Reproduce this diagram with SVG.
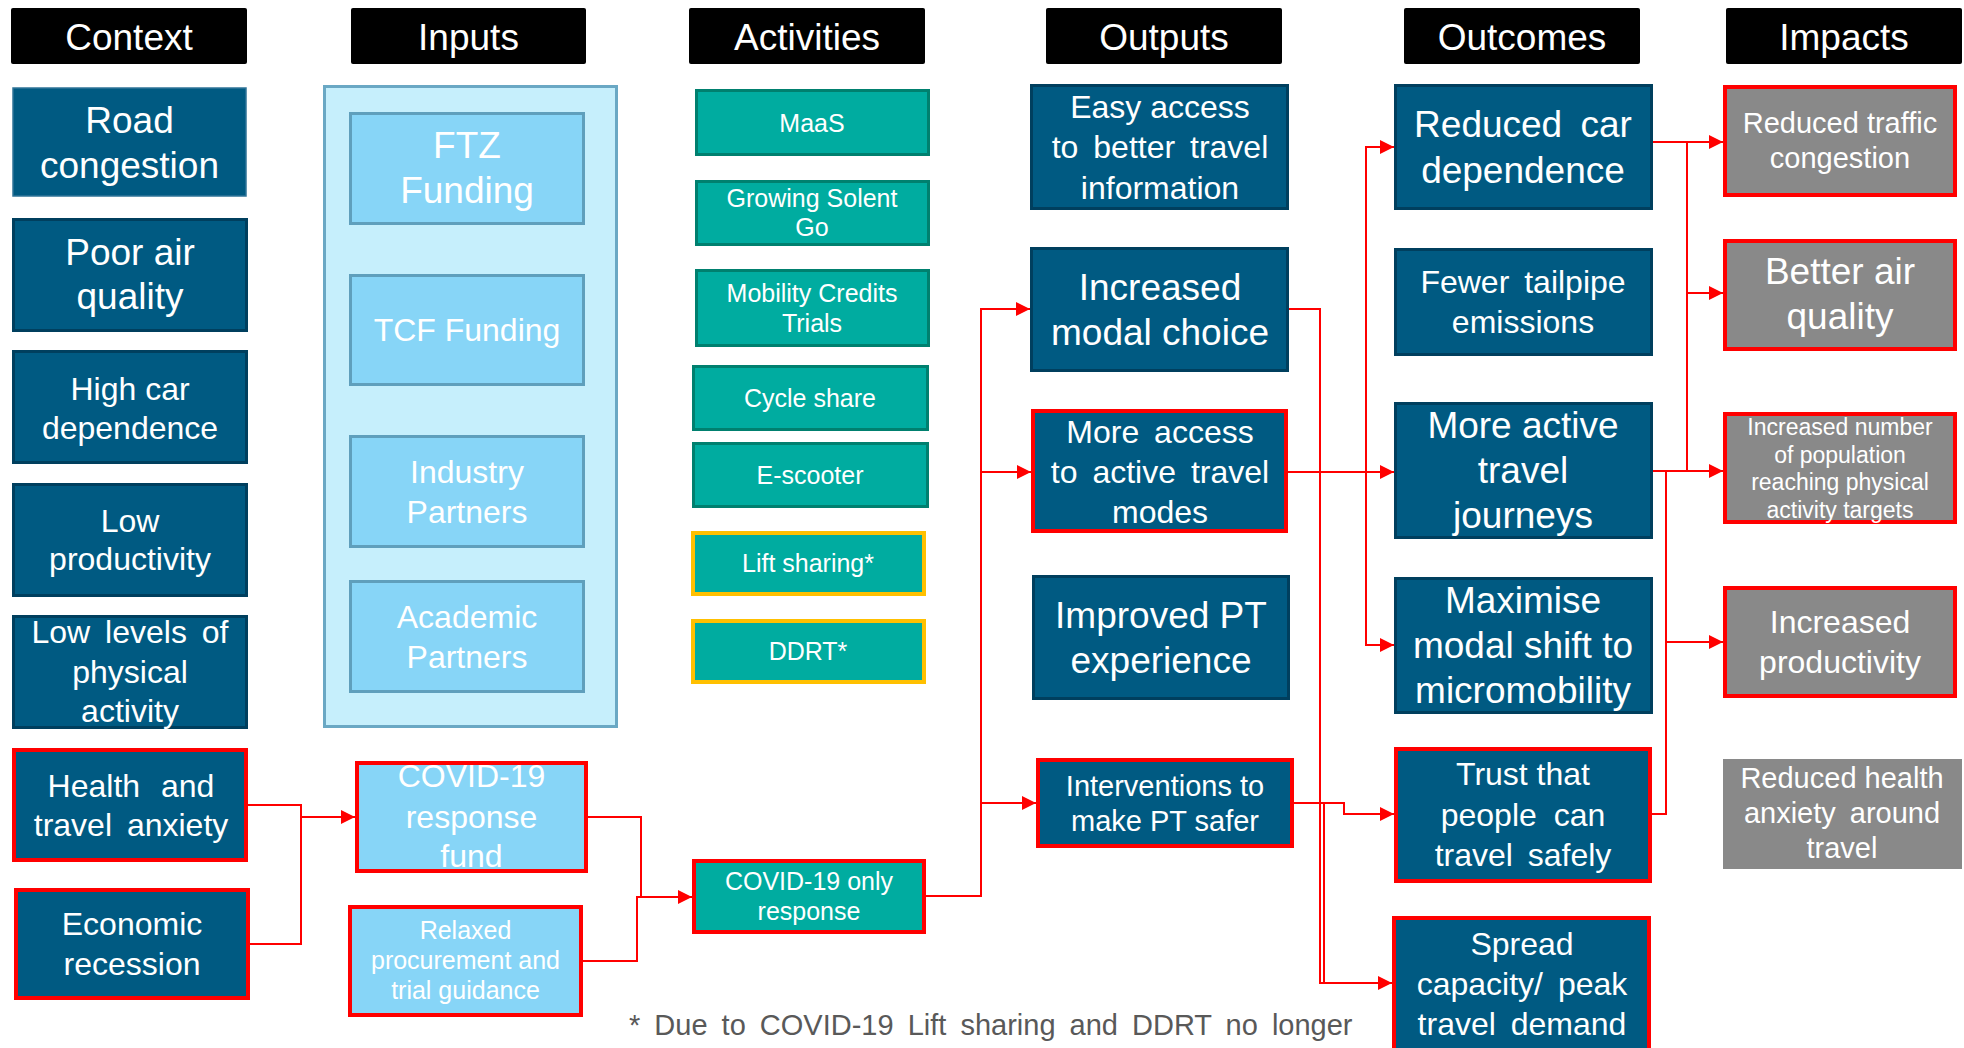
<svg xmlns="http://www.w3.org/2000/svg" width="1964" height="1048" viewBox="0 0 1964 1048">
<defs>
<marker id="arr" markerUnits="userSpaceOnUse" markerWidth="14" markerHeight="14" viewBox="0 0 12 12" refX="12" refY="6" orient="auto">
<path d="M0,0 L12,6 L0,12 z" fill="#ff0000"/>
</marker>
</defs>
<style>
text{font-family:"Liberation Sans",Arial,sans-serif;fill:#fff;text-anchor:middle}
.hdr{fill:#000}
.ht{font-size:37px}
.db{fill:#005a82;stroke:#003f5e;stroke-width:3}
.tl{fill:#00aca0;stroke:#00806f;stroke-width:3}
.lb{fill:#87d5f7;stroke:#5f9fbc;stroke-width:3}
.ct{fill:#c6effc;stroke:#6aa8c4;stroke-width:3}
.gr{fill:#898989;stroke:#898989;stroke-width:1}
.red{stroke:#ff0000;stroke-width:4}
.yl{stroke:#ffc000;stroke-width:4}
.f37{font-size:37px}.f32{font-size:32px}.f29{font-size:29px}.f25{font-size:25px}.f23{font-size:23px}
.cn path{fill:none;stroke:#ff0000;stroke-width:2}
.note{fill:#595959;text-anchor:start;font-size:29px;word-spacing:6px}
</style>

<g id="headers">
<g id="h-context"><rect class="hdr" x="11" y="8" width="236" height="56" rx="2"/><text class="ht" x="129" y="50">Context</text></g>
<g id="h-inputs"><rect class="hdr" x="351" y="8" width="235" height="56" rx="2"/><text class="ht" x="468.5" y="50">Inputs</text></g>
<g id="h-activities"><rect class="hdr" x="689" y="8" width="236" height="56" rx="2"/><text class="ht" x="807" y="50">Activities</text></g>
<g id="h-outputs"><rect class="hdr" x="1046" y="8" width="236" height="56" rx="2"/><text class="ht" x="1164" y="50">Outputs</text></g>
<g id="h-outcomes"><rect class="hdr" x="1404" y="8" width="236" height="56" rx="2"/><text class="ht" x="1522" y="50">Outcomes</text></g>
<g id="h-impacts"><rect class="hdr" x="1726" y="8" width="236" height="56" rx="2"/><text class="ht" x="1844" y="50">Impacts</text></g>
</g>

<g id="context">
<g id="road-congestion"><rect x="13" y="88" width="233" height="108" fill="#005a82" stroke="#2f7498" stroke-width="1.5"/><text class="f37" x="129.5"><tspan x="129.5" y="133">Road</tspan><tspan x="129.5" y="178">congestion</tspan></text></g>
<g id="poor-air"><rect class="db" x="13.5" y="219.5" width="233" height="111"/><text class="f37"><tspan x="130" y="265">Poor air</tspan><tspan x="130" y="309">quality</tspan></text></g>
<g id="high-car"><rect class="db" x="13.5" y="351.5" width="233" height="111"/><text class="f32"><tspan x="130" y="400">High car</tspan><tspan x="130" y="439">dependence</tspan></text></g>
<g id="low-productivity"><rect class="db" x="13.5" y="484.5" width="233" height="111"/><text class="f32"><tspan x="130" y="532">Low</tspan><tspan x="130" y="570">productivity</tspan></text></g>
<g id="low-activity"><rect class="db" x="13.5" y="616.5" width="233" height="111"/><text class="f32"><tspan x="130" y="643" style="word-spacing:6px">Low levels of</tspan><tspan x="130" y="683">physical</tspan><tspan x="130" y="722">activity</tspan></text></g>
<g id="health-anxiety"><rect class="db red" x="14" y="750" width="232" height="110"/><text class="f32"><tspan x="131" y="797" style="word-spacing:12px">Health and</tspan><tspan x="131" y="836" style="word-spacing:6px">travel anxiety</tspan></text></g>
<g id="economic-recession"><rect class="db red" x="16" y="890" width="232" height="108"/><text class="f32"><tspan x="132" y="935">Economic</tspan><tspan x="132" y="975">recession</tspan></text></g>
</g>

<g id="inputs">
<rect id="inputs-container" class="ct" x="324.5" y="86.5" width="292" height="640"/>
<g id="ftz"><rect class="lb" x="350.5" y="113.5" width="233" height="110"/><text class="f37"><tspan x="467" y="158">FTZ</tspan><tspan x="467" y="203">Funding</tspan></text></g>
<g id="tcf"><rect class="lb" x="350.5" y="275.5" width="233" height="109"/><text class="f32" x="467" y="341">TCF Funding</text></g>
<g id="industry"><rect class="lb" x="350.5" y="436.5" width="233" height="110"/><text class="f32"><tspan x="467" y="483">Industry</tspan><tspan x="467" y="523">Partners</tspan></text></g>
<g id="academic"><rect class="lb" x="350.5" y="581.5" width="233" height="110"/><text class="f32"><tspan x="467" y="628">Academic</tspan><tspan x="467" y="668">Partners</tspan></text></g>
<g id="covid-fund"><rect class="lb red" x="357" y="763" width="229" height="108"/><text class="f32"><tspan x="471.5" y="787">COVID-19</tspan><tspan x="471.5" y="828">response</tspan><tspan x="471.5" y="867">fund</tspan></text></g>
<g id="relaxed"><rect class="lb red" x="350" y="907" width="231" height="108"/><text class="f25"><tspan x="465.5" y="939">Relaxed</tspan><tspan x="465.5" y="969">procurement and</tspan><tspan x="465.5" y="999">trial guidance</tspan></text></g>
</g>

<g id="activities">
<g id="maas"><rect class="tl" x="696.5" y="90.5" width="232" height="64"/><text class="f25" x="812" y="132">MaaS</text></g>
<g id="solent-go"><rect class="tl" x="696.5" y="181.5" width="232" height="63"/><text class="f25"><tspan x="812" y="207">Growing Solent</tspan><tspan x="812" y="236">Go</tspan></text></g>
<g id="mobility-credits"><rect class="tl" x="696.5" y="270.5" width="232" height="75"/><text class="f25"><tspan x="812" y="302">Mobility Credits</tspan><tspan x="812" y="332">Trials</tspan></text></g>
<g id="cycle-share"><rect class="tl" x="693.5" y="366.5" width="234" height="63"/><text class="f25" x="810" y="407">Cycle share</text></g>
<g id="e-scooter"><rect class="tl" x="693.5" y="443.5" width="234" height="63"/><text class="f25" x="810" y="484">E-scooter</text></g>
<g id="lift-sharing"><rect class="tl yl" x="693" y="533" width="231" height="61"/><text class="f25" x="808" y="572">Lift sharing*</text></g>
<g id="ddrt"><rect class="tl yl" x="693" y="621" width="231" height="61"/><text class="f25" x="808" y="660">DDRT*</text></g>
<g id="covid-only"><rect class="tl red" x="694" y="861" width="230" height="71"/><text class="f25"><tspan x="809" y="890">COVID-19 only</tspan><tspan x="809" y="920">response</tspan></text></g>
</g>

<g id="outputs">
<g id="easy-access"><rect class="db" x="1031.5" y="85.5" width="256" height="123"/><text class="f32"><tspan x="1160" y="118">Easy access</tspan><tspan x="1160" y="158" style="word-spacing:6px">to better travel</tspan><tspan x="1160" y="199">information</tspan></text></g>
<g id="modal-choice"><rect class="db" x="1031.5" y="248.5" width="256" height="122"/><text class="f37"><tspan x="1160" y="300">Increased</tspan><tspan x="1160" y="345">modal choice</tspan></text></g>
<g id="active-access"><rect class="db red" x="1033" y="411" width="253" height="120"/><text class="f32"><tspan x="1160" y="443" style="word-spacing:6px">More access</tspan><tspan x="1160" y="483" style="word-spacing:6px">to active travel</tspan><tspan x="1160" y="523">modes</tspan></text></g>
<g id="improved-pt"><rect class="db" x="1033.5" y="576.5" width="255" height="122"/><text class="f37"><tspan x="1161" y="628">Improved PT</tspan><tspan x="1161" y="673">experience</tspan></text></g>
<g id="pt-safer"><rect class="db red" x="1038" y="760" width="254" height="86"/><text class="f29"><tspan x="1165" y="796">Interventions to</tspan><tspan x="1165" y="831">make PT safer</tspan></text></g>
</g>

<g id="outcomes">
<g id="reduced-car"><rect class="db" x="1395.5" y="85.5" width="256" height="123"/><text class="f37"><tspan x="1523" y="137" style="word-spacing:8px">Reduced car</tspan><tspan x="1523" y="183">dependence</tspan></text></g>
<g id="fewer-emissions"><rect class="db" x="1395.5" y="249.5" width="256" height="105"/><text class="f32"><tspan x="1523" y="293" style="word-spacing:6px">Fewer tailpipe</tspan><tspan x="1523" y="333">emissions</tspan></text></g>
<g id="more-active"><rect class="db" x="1395.5" y="403.5" width="256" height="134"/><text class="f37"><tspan x="1523" y="438">More active</tspan><tspan x="1523" y="483">travel</tspan><tspan x="1523" y="528">journeys</tspan></text></g>
<g id="micromobility"><rect class="db" x="1395.5" y="578.5" width="256" height="134"/><text class="f37"><tspan x="1523" y="613">Maximise</tspan><tspan x="1523" y="658">modal shift to</tspan><tspan x="1523" y="703">micromobility</tspan></text></g>
<g id="trust"><rect class="db red" x="1396" y="749" width="254" height="132"/><text class="f32"><tspan x="1523" y="785">Trust that</tspan><tspan x="1523" y="826" style="word-spacing:8px">people can</tspan><tspan x="1523" y="866" style="word-spacing:6px">travel safely</tspan></text></g>
<g id="spread"><rect class="db red" x="1394" y="918" width="255" height="140"/><text class="f32"><tspan x="1522" y="955">Spread</tspan><tspan x="1522" y="995" style="word-spacing:6px">capacity/ peak</tspan><tspan x="1522" y="1035" style="word-spacing:6px">travel demand</tspan></text></g>
</g>

<g id="impacts">
<g id="reduced-traffic"><rect class="gr red" x="1725" y="87" width="230" height="108"/><text class="f29"><tspan x="1840" y="133">Reduced traffic</tspan><tspan x="1840" y="168">congestion</tspan></text></g>
<g id="better-air"><rect class="gr red" x="1725" y="241" width="230" height="108"/><text class="f37"><tspan x="1840" y="284">Better air</tspan><tspan x="1840" y="329">quality</tspan></text></g>
<g id="activity-targets"><rect class="gr red" x="1725" y="414" width="230" height="108"/><text class="f23"><tspan x="1840" y="435">Increased number</tspan><tspan x="1840" y="463">of population</tspan><tspan x="1840" y="490">reaching physical</tspan><tspan x="1840" y="518">activity targets</tspan></text></g>
<g id="increased-productivity"><rect class="gr red" x="1725" y="588" width="230" height="108"/><text class="f32"><tspan x="1840" y="633">Increased</tspan><tspan x="1840" y="673">productivity</tspan></text></g>
<g id="health-anxiety-impact"><rect class="gr" x="1723.5" y="759.5" width="238" height="109"/><text class="f29"><tspan x="1842" y="788">Reduced health</tspan><tspan x="1842" y="823" style="word-spacing:6px">anxiety around</tspan><tspan x="1842" y="858">travel</tspan></text></g>
</g>

<g id="connectors" class="cn">
<path d="M247,805 H301 V944 H250"/>
<path d="M301,817 H355" marker-end="url(#arr)"/>
<path d="M588,817 H641 V897"/>
<path d="M583,961 H637 V897 H692" marker-end="url(#arr)"/>
<path d="M926,896 H981 V309 H1030" marker-end="url(#arr)"/>
<path d="M981,472 H1031" marker-end="url(#arr)"/>
<path d="M981,803 H1036" marker-end="url(#arr)"/>
<path d="M1289,309 H1320 V983 H1392" marker-end="url(#arr)"/>
<path d="M1294,803 H1324 V983"/>
<path d="M1324,803 H1344 V814 H1394" marker-end="url(#arr)"/>
<path d="M1288,472 H1394" marker-end="url(#arr)"/>
<path d="M1366,472 V147 H1394" marker-end="url(#arr)"/>
<path d="M1366,472 V645 H1394" marker-end="url(#arr)"/>
<path d="M1653,142 H1723" marker-end="url(#arr)"/>
<path d="M1687,142 V470"/>
<path d="M1687,293 H1723" marker-end="url(#arr)"/>
<path d="M1653,471 H1723" marker-end="url(#arr)"/>
<path d="M1652,814 H1666 V471"/>
<path d="M1666,642 H1723" marker-end="url(#arr)"/>
</g>

<text class="note" x="629" y="1035">* Due to COVID-19 Lift sharing and DDRT no longer</text>
</svg>
